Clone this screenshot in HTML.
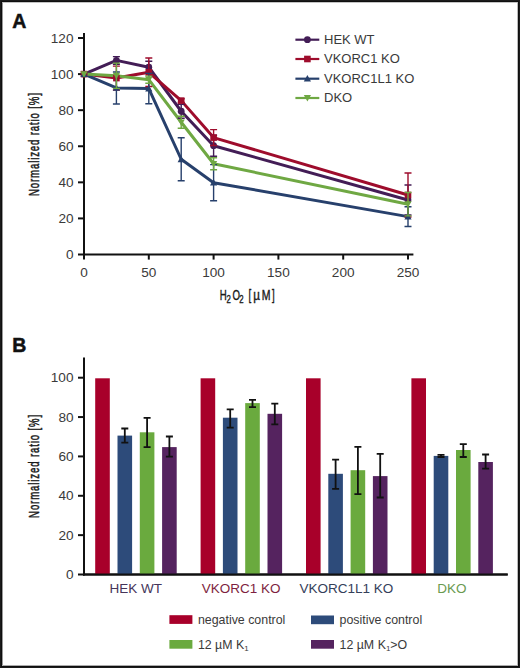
<!DOCTYPE html>
<html><head><meta charset="utf-8"><style>
html,body{margin:0;padding:0;background:#fff;}
body{width:520px;height:668px;overflow:hidden;}
svg{display:block;font-family:"Liberation Sans",sans-serif;}
</style></head><body>
<svg width="520" height="668" viewBox="0 0 520 668">
<rect x="0" y="0" width="520" height="668" fill="#1b1b1b"/>
<rect x="1" y="1" width="518" height="666" fill="#0f0f0f"/>
<rect x="2" y="2" width="516" height="664" fill="#b4b4b4"/>
<rect x="2" y="3" width="1" height="662" fill="#9a9a9a"/>
<rect x="3" y="2" width="514" height="1" fill="#c4c4c4"/>
<rect x="3" y="665" width="514" height="1" fill="#ababab"/>
<rect x="517" y="3" width="1" height="662" fill="#bbbbbb"/>
<rect x="3" y="3" width="514" height="662" fill="#fff"/>
<text x="12.2" y="27.5" font-size="19.5" font-weight="bold" fill="#111" stroke="#111" stroke-width="0.5">A</text>
<line x1="84" y1="33" x2="84" y2="255.5" stroke="#111" stroke-width="2"/>
<line x1="83" y1="254.5" x2="413.4" y2="254.5" stroke="#111" stroke-width="2"/>
<line x1="78" y1="254.50" x2="84" y2="254.50" stroke="#111" stroke-width="2"/>
<text x="73.5" y="259.00" font-size="13.6" text-anchor="end" fill="#3a3a3a">0</text>
<line x1="78" y1="218.42" x2="84" y2="218.42" stroke="#111" stroke-width="2"/>
<text x="73.5" y="222.92" font-size="13.6" text-anchor="end" fill="#3a3a3a">20</text>
<line x1="78" y1="182.34" x2="84" y2="182.34" stroke="#111" stroke-width="2"/>
<text x="73.5" y="186.84" font-size="13.6" text-anchor="end" fill="#3a3a3a">40</text>
<line x1="78" y1="146.26" x2="84" y2="146.26" stroke="#111" stroke-width="2"/>
<text x="73.5" y="150.76" font-size="13.6" text-anchor="end" fill="#3a3a3a">60</text>
<line x1="78" y1="110.18" x2="84" y2="110.18" stroke="#111" stroke-width="2"/>
<text x="73.5" y="114.68" font-size="13.6" text-anchor="end" fill="#3a3a3a">80</text>
<line x1="78" y1="74.10" x2="84" y2="74.10" stroke="#111" stroke-width="2"/>
<text x="73.5" y="78.60" font-size="13.6" text-anchor="end" fill="#3a3a3a">100</text>
<line x1="78" y1="38.02" x2="84" y2="38.02" stroke="#111" stroke-width="2"/>
<text x="73.5" y="42.52" font-size="13.6" text-anchor="end" fill="#3a3a3a">120</text>
<line x1="84.00" y1="254.5" x2="84.00" y2="259.6" stroke="#111" stroke-width="2"/>
<text x="84.00" y="276.6" font-size="13.6" text-anchor="middle" fill="#3a3a3a">0</text>
<line x1="148.80" y1="254.5" x2="148.80" y2="259.6" stroke="#111" stroke-width="2"/>
<text x="148.80" y="276.6" font-size="13.6" text-anchor="middle" fill="#3a3a3a">50</text>
<line x1="213.60" y1="254.5" x2="213.60" y2="259.6" stroke="#111" stroke-width="2"/>
<text x="213.60" y="276.6" font-size="13.6" text-anchor="middle" fill="#3a3a3a">100</text>
<line x1="278.40" y1="254.5" x2="278.40" y2="259.6" stroke="#111" stroke-width="2"/>
<text x="278.40" y="276.6" font-size="13.6" text-anchor="middle" fill="#3a3a3a">150</text>
<line x1="343.20" y1="254.5" x2="343.20" y2="259.6" stroke="#111" stroke-width="2"/>
<text x="343.20" y="276.6" font-size="13.6" text-anchor="middle" fill="#3a3a3a">200</text>
<line x1="408.00" y1="254.5" x2="408.00" y2="259.6" stroke="#111" stroke-width="2"/>
<text x="408.00" y="276.6" font-size="13.6" text-anchor="middle" fill="#3a3a3a">250</text>
<g transform="translate(39.4,144.1) rotate(-90) scale(0.66,1)"><text x="0" y="0" font-size="14.6" font-weight="normal" letter-spacing="1.3" text-anchor="middle" fill="#1a1a1a" stroke="#1a1a1a" stroke-width="0.5">Normalized ratio [%]</text></g>
<g transform="translate(219.80,299.50) scale(0.66,1)"><text x="0" y="0" font-size="14.6" text-anchor="start" fill="#1a1a1a" stroke="#1a1a1a" stroke-width="0.4">H</text></g>
<g transform="translate(226.60,302.90) scale(0.66,1)"><text x="0" y="0" font-size="11.8" text-anchor="start" fill="#1a1a1a" stroke="#1a1a1a" stroke-width="0.4">2</text></g>
<g transform="translate(232.40,299.50) scale(0.66,1)"><text x="0" y="0" font-size="14.6" text-anchor="start" fill="#1a1a1a" stroke="#1a1a1a" stroke-width="0.4">O</text></g>
<g transform="translate(239.20,302.90) scale(0.66,1)"><text x="0" y="0" font-size="11.8" text-anchor="start" fill="#1a1a1a" stroke="#1a1a1a" stroke-width="0.4">2</text></g>
<g transform="translate(248.40,299.50) scale(0.66,1)"><text x="0" y="0" font-size="14.6" text-anchor="start" fill="#1a1a1a" stroke="#1a1a1a" stroke-width="0.4">[</text></g>
<g transform="translate(253.20,299.50) scale(0.8,1)"><text x="0" y="0" font-size="14.6" text-anchor="start" fill="#1a1a1a" stroke="#1a1a1a" stroke-width="0.4">µ</text></g>
<g transform="translate(261.70,299.50) scale(0.72,1)"><text x="0" y="0" font-size="14.6" text-anchor="start" fill="#1a1a1a" stroke="#1a1a1a" stroke-width="0.4">M</text></g>
<g transform="translate(271.90,299.50) scale(0.66,1)"><text x="0" y="0" font-size="14.6" text-anchor="start" fill="#1a1a1a" stroke="#1a1a1a" stroke-width="0.4">]</text></g>
<polyline points="84.00,74.10 116.40,60.39 148.80,67.24 181.20,111.26 213.60,145.72 408.00,200.02" fill="none" stroke="#431d56" stroke-width="3" stroke-linejoin="round"/>
<polyline points="84.00,74.10 116.40,78.07 148.80,72.30 181.20,100.62 213.60,137.60 408.00,194.97" fill="none" stroke="#9e0c2c" stroke-width="3" stroke-linejoin="round"/>
<polyline points="84.00,74.10 116.40,87.99 148.80,88.53 181.20,159.25 213.60,182.70 408.00,216.62" fill="none" stroke="#27406c" stroke-width="3" stroke-linejoin="round"/>
<polyline points="84.00,74.10 116.40,75.72 148.80,79.69 181.20,122.27 213.60,163.76 408.00,204.17" fill="none" stroke="#6fa843" stroke-width="3" stroke-linejoin="round"/>
<path d="M116.40 56.60V64.18M112.90 56.60H119.90M112.90 64.18H119.90" stroke="#431d56" stroke-width="1.4" fill="none"/>
<path d="M148.80 61.29V73.20M145.30 61.29H152.30M145.30 73.20H152.30" stroke="#431d56" stroke-width="1.4" fill="none"/>
<path d="M181.20 104.23V118.30M177.70 104.23H184.70M177.70 118.30H184.70" stroke="#431d56" stroke-width="1.4" fill="none"/>
<path d="M213.60 135.26V156.18M210.10 135.26H217.10M210.10 156.18H217.10" stroke="#431d56" stroke-width="1.4" fill="none"/>
<path d="M408.00 185.05V214.99M404.50 185.05H411.50M404.50 214.99H411.50" stroke="#431d56" stroke-width="1.4" fill="none"/>
<circle cx="84.00" cy="74.10" r="3.40" fill="#431d56"/>
<circle cx="116.40" cy="60.39" r="3.40" fill="#431d56"/>
<circle cx="148.80" cy="67.24" r="3.40" fill="#431d56"/>
<circle cx="181.20" cy="111.26" r="3.40" fill="#431d56"/>
<circle cx="213.60" cy="145.72" r="3.40" fill="#431d56"/>
<circle cx="408.00" cy="200.02" r="3.40" fill="#431d56"/>
<path d="M116.40 66.16V89.98M112.90 66.16H119.90M112.90 89.98H119.90" stroke="#9e0c2c" stroke-width="1.4" fill="none"/>
<path d="M148.80 58.04V86.55M145.30 58.04H152.30M145.30 86.55H152.30" stroke="#9e0c2c" stroke-width="1.4" fill="none"/>
<path d="M181.20 98.81V102.42M177.70 98.81H184.70M177.70 102.42H184.70" stroke="#9e0c2c" stroke-width="1.4" fill="none"/>
<path d="M213.60 129.66V145.54M210.10 129.66H217.10M210.10 145.54H217.10" stroke="#9e0c2c" stroke-width="1.4" fill="none"/>
<path d="M408.00 172.96V216.98M404.50 172.96H411.50M404.50 216.98H411.50" stroke="#9e0c2c" stroke-width="1.4" fill="none"/>
<rect x="80.70" y="70.80" width="6.60" height="6.60" fill="#9e0c2c"/>
<rect x="113.10" y="74.77" width="6.60" height="6.60" fill="#9e0c2c"/>
<rect x="145.50" y="69.00" width="6.60" height="6.60" fill="#9e0c2c"/>
<rect x="177.90" y="97.32" width="6.60" height="6.60" fill="#9e0c2c"/>
<rect x="210.30" y="134.30" width="6.60" height="6.60" fill="#9e0c2c"/>
<rect x="404.70" y="191.67" width="6.60" height="6.60" fill="#9e0c2c"/>
<path d="M116.40 71.94V104.05M112.90 71.94H119.90M112.90 104.05H119.90" stroke="#27406c" stroke-width="1.4" fill="none"/>
<path d="M148.80 73.38V103.69M145.30 73.38H152.30M145.30 103.69H152.30" stroke="#27406c" stroke-width="1.4" fill="none"/>
<path d="M181.20 137.78V180.72M177.70 137.78H184.70M177.70 180.72H184.70" stroke="#27406c" stroke-width="1.4" fill="none"/>
<path d="M213.60 164.66V200.74M210.10 164.66H217.10M210.10 200.74H217.10" stroke="#27406c" stroke-width="1.4" fill="none"/>
<path d="M408.00 206.69V226.54M404.50 206.69H411.50M404.50 226.54H411.50" stroke="#27406c" stroke-width="1.4" fill="none"/>
<polygon points="84.00,70.50 87.60,76.98 80.40,76.98" fill="#27406c"/>
<polygon points="116.40,84.39 120.00,90.87 112.80,90.87" fill="#27406c"/>
<polygon points="148.80,84.93 152.40,91.41 145.20,91.41" fill="#27406c"/>
<polygon points="181.20,155.65 184.80,162.13 177.60,162.13" fill="#27406c"/>
<polygon points="213.60,179.10 217.20,185.58 210.00,185.58" fill="#27406c"/>
<polygon points="408.00,213.02 411.60,219.50 404.40,219.50" fill="#27406c"/>
<path d="M116.40 63.10V88.35M112.90 63.10H119.90M112.90 88.35H119.90" stroke="#6fa843" stroke-width="1.4" fill="none"/>
<path d="M148.80 76.08V83.30M145.30 76.08H152.30M145.30 83.30H152.30" stroke="#6fa843" stroke-width="1.4" fill="none"/>
<path d="M181.20 116.31V128.22M177.70 116.31H184.70M177.70 128.22H184.70" stroke="#6fa843" stroke-width="1.4" fill="none"/>
<path d="M213.60 157.81V169.71M210.10 157.81H217.10M210.10 169.71H217.10" stroke="#6fa843" stroke-width="1.4" fill="none"/>
<path d="M408.00 192.44V215.89M404.50 192.44H411.50M404.50 215.89H411.50" stroke="#6fa843" stroke-width="1.4" fill="none"/>
<polygon points="84.00,77.70 87.60,71.22 80.40,71.22" fill="#6fa843"/>
<polygon points="116.40,79.32 120.00,72.84 112.80,72.84" fill="#6fa843"/>
<polygon points="148.80,83.29 152.40,76.81 145.20,76.81" fill="#6fa843"/>
<polygon points="181.20,125.87 184.80,119.39 177.60,119.39" fill="#6fa843"/>
<polygon points="213.60,167.36 217.20,160.88 210.00,160.88" fill="#6fa843"/>
<polygon points="408.00,207.77 411.60,201.29 404.40,201.29" fill="#6fa843"/>
<line x1="295.4" y1="39.7" x2="319.3" y2="39.7" stroke="#431d56" stroke-width="2.2"/>
<circle cx="307.40" cy="39.70" r="3.40" fill="#431d56"/>
<text x="324" y="43.80" font-size="13" fill="#3a3a3a">HEK WT</text>
<line x1="295.4" y1="59.0" x2="319.3" y2="59.0" stroke="#9e0c2c" stroke-width="2.2"/>
<rect x="304.10" y="55.70" width="6.60" height="6.60" fill="#9e0c2c"/>
<text x="324" y="63.10" font-size="13" fill="#3a3a3a">VKORC1 KO</text>
<line x1="295.4" y1="78.7" x2="319.3" y2="78.7" stroke="#27406c" stroke-width="2.2"/>
<polygon points="307.40,75.10 311.00,81.58 303.80,81.58" fill="#27406c"/>
<text x="324" y="82.80" font-size="13" fill="#3a3a3a">VKORC1L1 KO</text>
<line x1="295.4" y1="98.0" x2="319.3" y2="98.0" stroke="#6fa843" stroke-width="2.2"/>
<polygon points="307.40,101.60 311.00,95.12 303.80,95.12" fill="#6fa843"/>
<text x="324" y="102.10" font-size="13" fill="#3a3a3a">DKO</text>
<text x="12.2" y="352" font-size="19.5" font-weight="bold" fill="#111" stroke="#111" stroke-width="0.5">B</text>
<line x1="84" y1="357.5" x2="84" y2="575.5" stroke="#111" stroke-width="2"/>
<line x1="83" y1="574.5" x2="507.7" y2="574.5" stroke="#111" stroke-width="2"/>
<line x1="78" y1="574.50" x2="84" y2="574.50" stroke="#111" stroke-width="2"/>
<text x="73.5" y="579.00" font-size="13.6" text-anchor="end" fill="#3a3a3a">0</text>
<line x1="78" y1="535.14" x2="84" y2="535.14" stroke="#111" stroke-width="2"/>
<text x="73.5" y="539.64" font-size="13.6" text-anchor="end" fill="#3a3a3a">20</text>
<line x1="78" y1="495.78" x2="84" y2="495.78" stroke="#111" stroke-width="2"/>
<text x="73.5" y="500.28" font-size="13.6" text-anchor="end" fill="#3a3a3a">40</text>
<line x1="78" y1="456.42" x2="84" y2="456.42" stroke="#111" stroke-width="2"/>
<text x="73.5" y="460.92" font-size="13.6" text-anchor="end" fill="#3a3a3a">60</text>
<line x1="78" y1="417.06" x2="84" y2="417.06" stroke="#111" stroke-width="2"/>
<text x="73.5" y="421.56" font-size="13.6" text-anchor="end" fill="#3a3a3a">80</text>
<line x1="78" y1="377.70" x2="84" y2="377.70" stroke="#111" stroke-width="2"/>
<text x="73.5" y="382.20" font-size="13.6" text-anchor="end" fill="#3a3a3a">100</text>
<g transform="translate(39.4,466) rotate(-90) scale(0.66,1)"><text x="0" y="0" font-size="14.6" font-weight="normal" letter-spacing="1.3" text-anchor="middle" fill="#1a1a1a" stroke="#1a1a1a" stroke-width="0.5">Normalized ratio [%]</text></g>
<rect x="95.20" y="378.30" width="14.6" height="196.20" fill="#a8002a"/>
<rect x="117.50" y="435.60" width="14.6" height="138.90" fill="#2d4b7a"/>
<rect x="139.80" y="432.30" width="14.6" height="142.20" fill="#6aaa3e"/>
<rect x="162.10" y="447.10" width="14.6" height="127.40" fill="#55235f"/>
<rect x="200.60" y="378.30" width="14.6" height="196.20" fill="#a8002a"/>
<rect x="222.90" y="417.70" width="14.6" height="156.80" fill="#2d4b7a"/>
<rect x="245.20" y="403.10" width="14.6" height="171.40" fill="#6aaa3e"/>
<rect x="267.50" y="413.80" width="14.6" height="160.70" fill="#55235f"/>
<rect x="306.00" y="378.30" width="14.6" height="196.20" fill="#a8002a"/>
<rect x="328.30" y="473.80" width="14.6" height="100.70" fill="#2d4b7a"/>
<rect x="350.60" y="470.20" width="14.6" height="104.30" fill="#6aaa3e"/>
<rect x="372.90" y="476.10" width="14.6" height="98.40" fill="#55235f"/>
<rect x="411.40" y="378.30" width="14.6" height="196.20" fill="#a8002a"/>
<rect x="433.70" y="455.90" width="14.6" height="118.60" fill="#2d4b7a"/>
<rect x="456.00" y="450.00" width="14.6" height="124.50" fill="#6aaa3e"/>
<rect x="478.30" y="462.00" width="14.6" height="112.50" fill="#55235f"/>
<path d="M124.80 428.50V442.70M121.30 428.50H128.30M121.30 442.70H128.30" stroke="#111" stroke-width="1.8" fill="none"/>
<path d="M147.10 417.90V447.10M143.60 417.90H150.60M143.60 447.10H150.60" stroke="#111" stroke-width="1.8" fill="none"/>
<path d="M169.40 436.50V456.70M165.90 436.50H172.90M165.90 456.70H172.90" stroke="#111" stroke-width="1.8" fill="none"/>
<path d="M230.20 409.40V427.70M226.70 409.40H233.70M226.70 427.70H233.70" stroke="#111" stroke-width="1.8" fill="none"/>
<path d="M252.50 399.80V407.10M249.00 399.80H256.00M249.00 407.10H256.00" stroke="#111" stroke-width="1.8" fill="none"/>
<path d="M274.80 403.70V424.40M271.30 403.70H278.30M271.30 424.40H278.30" stroke="#111" stroke-width="1.8" fill="none"/>
<path d="M335.60 459.70V488.90M332.10 459.70H339.10M332.10 488.90H339.10" stroke="#111" stroke-width="1.8" fill="none"/>
<path d="M357.90 446.90V494.10M354.40 446.90H361.40M354.40 494.10H361.40" stroke="#111" stroke-width="1.8" fill="none"/>
<path d="M380.20 453.90V497.50M376.70 453.90H383.70M376.70 497.50H383.70" stroke="#111" stroke-width="1.8" fill="none"/>
<path d="M441.00 454.80V457.00M437.50 454.80H444.50M437.50 457.00H444.50" stroke="#111" stroke-width="1.8" fill="none"/>
<path d="M463.30 444.10V457.00M459.80 444.10H466.80M459.80 457.00H466.80" stroke="#111" stroke-width="1.8" fill="none"/>
<path d="M485.60 454.50V468.70M482.10 454.50H489.10M482.10 468.70H489.10" stroke="#111" stroke-width="1.8" fill="none"/>
<line x1="83" y1="574.5" x2="507.7" y2="574.5" stroke="#111" stroke-width="2"/>
<text x="135.8" y="593" font-size="13.5" text-anchor="middle" fill="#45355a">HEK WT</text>
<text x="241.2" y="593" font-size="13.5" text-anchor="middle" fill="#7e1f40">VKORC1 KO</text>
<text x="346.3" y="593" font-size="13.5" text-anchor="middle" fill="#34405a">VKORC1L1 KO</text>
<text x="451.8" y="593" font-size="13.5" text-anchor="middle" fill="#6a9a50">DKO</text>
<rect x="169.4" y="615.2" width="23" height="8.7" fill="#a8002a"/>
<text x="197.9" y="623.8" font-size="12.4" fill="#3a3a3a">negative control</text>
<rect x="311" y="615.5" width="23" height="8.7" fill="#2d4b7a"/>
<text x="339.5" y="624.1" font-size="12.4" fill="#3a3a3a">positive control</text>
<rect x="169.4" y="640" width="23" height="8.7" fill="#6aaa3e"/>
<text x="197.9" y="648.6" font-size="12.4" fill="#3a3a3a">12 µM K<tspan font-size="8" dy="2.6">1</tspan></text>
<rect x="311" y="640" width="23" height="8.7" fill="#55235f"/>
<text x="339.5" y="648.6" font-size="12.4" fill="#3a3a3a">12 µM K<tspan font-size="8" dy="2.6">1</tspan><tspan dy="-2.6">&gt;O</tspan></text>
</svg></body></html>
